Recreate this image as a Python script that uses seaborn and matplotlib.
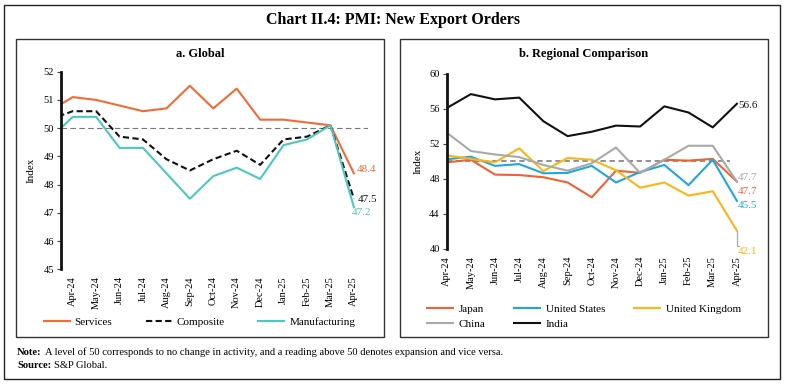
import numpy as np
import pandas as pd
import seaborn as sns
import matplotlib.pyplot as plt
from matplotlib.patches import Rectangle
from matplotlib.lines import Line2D

# months shown on the axis (Mar-24 only feeds the clipped stub at the left edge)
months = ['Apr-24', 'May-24', 'Jun-24', 'Jul-24', 'Aug-24', 'Sep-24', 'Oct-24',
          'Nov-24', 'Dec-24', 'Jan-25', 'Feb-25', 'Mar-25', 'Apr-25']

# panel a: global PMI new export orders (first value = Mar-24)
services = [50.6, 51.1, 51.0, 50.8, 50.6, 50.7, 51.5, 50.7, 51.4, 50.3, 50.3, 50.2, 50.1, 48.4]
composite = [50.3, 50.6, 50.6, 49.7, 49.6, 48.9, 48.5, 48.9, 49.2, 48.7, 49.6, 49.7, 50.1, 47.5]
manufacturing = [49.6, 50.4, 50.4, 49.3, 49.3, 48.4, 47.5, 48.3, 48.6, 48.2, 49.4, 49.6, 50.1, 47.2]

# panel b: regional comparison
japan = [49.9, 50.2, 48.5, 48.45, 48.2, 47.6, 45.9, 48.95, 48.7, 50.2, 50.1, 50.3, 47.7]
united_states = [50.25, 50.55, 49.5, 49.7, 48.65, 48.7, 49.5, 47.6, 48.8, 49.6, 47.3, 50.2, 45.5]
united_kingdom = [50.7, 50.3, 49.9, 51.5, 48.9, 50.4, 50.2, 49.0, 47.0, 47.6, 46.1, 46.6, 42.1]
china = [53.3, 51.2, 50.8, 50.5, 49.6, 48.95, 49.8, 51.6, 48.7, 50.2, 51.8, 51.8, 47.7]
india = [56.1, 57.7, 57.1, 57.3, 54.6, 52.9, 53.4, 54.1, 54.0, 56.3, 55.6, 53.9, 56.6]

glob_colors = {'Services': '#F26A36', 'Composite': '#111111', 'Manufacturing': '#4CC8BE'}
reg_colors = {'Japan': '#EF6234', 'United States': '#1FA6E0', 'United Kingdom': '#FDB515',
              'China': '#A9A9A9', 'India': '#111111'}

serif = 'Liberation Serif'
plt.rcParams['font.family'] = [serif, 'DejaVu Serif']

fig = plt.figure(figsize=(7.85, 3.84), dpi=100)

# frames
fig.add_artist(Rectangle((0.0051, 0.013), 0.9885, 0.974, transform=fig.transFigure,
                         fill=False, ec='#222222', lw=1.0))
for x0 in [0.0204, 0.5096]:
    fig.add_artist(Rectangle((x0, 0.1224), 0.4688, 0.776, transform=fig.transFigure,
                             fill=False, ec='#333333', lw=1.0))

fig.text(0.5, 0.947, 'Chart II.4: PMI: New Export Orders', ha='center', va='center',
         fontsize=11.5, fontweight='bold')
fig.text(200 / 785, 1 - 54 / 384, 'a. Global', ha='center', va='center',
         fontsize=9, fontweight='bold')
fig.text(584 / 785, 1 - 54 / 384, 'b. Regional Comparison', ha='center', va='center',
         fontsize=9, fontweight='bold')

# ---------- panel a ----------
gx = np.arange(-1, 13)
gdf = pd.DataFrame({'x': np.tile(gx, 3),
                    'value': services + composite + manufacturing,
                    'series': ['Services'] * 14 + ['Composite'] * 14 + ['Manufacturing'] * 14})

ax1 = fig.add_axes([0.0777, 0.2987, 0.391, 0.5146])
sns.lineplot(data=gdf, x='x', y='value', hue='series', style='series', palette=glob_colors,
             dashes={'Services': '', 'Composite': (3, 1.6), 'Manufacturing': ''},
             linewidth=1.5, legend=False, ax=ax1)
ax1.hlines(50, -0.5, 12.6, colors='#777777', linestyles=(0, (5, 3)), linewidth=0.8, zorder=0)
ax1.set_xlim(-0.5, 12.6)
ax1.set_ylim(45, 52)
ax1.set_yticks(range(45, 53))

ax1.text(12.12, 48.52, '48.4', color=glob_colors['Services'], fontsize=8, va='center')
ax1.text(12.15, 47.48, '47.5', color='#111111', fontsize=8, va='center')
ax1.text(11.9, 47.0, '47.2', color=glob_colors['Manufacturing'], fontsize=8, va='center')
ax1.set_ylabel('Index', fontsize=8, labelpad=6)

# ---------- panel b ----------
rx = np.arange(13)
names = ['Japan', 'United States', 'United Kingdom', 'China', 'India']
rdf = pd.DataFrame({'x': np.tile(rx, 5),
                    'value': japan + united_states + united_kingdom + china + india,
                    'series': np.repeat(names, 13)})

ax2 = fig.add_axes([0.569, 0.3516, 0.399, 0.4557])
ax2.hlines(50, 0, 11.7, colors='#888888', linestyles=(0, (3, 2)), linewidth=1.3, zorder=0)
sns.lineplot(data=rdf, x='x', y='value', hue='series', palette=reg_colors,
             linewidth=1.5, legend=False, ax=ax2)
ax2.set_xlim(0, 12.95)
ax2.set_ylim(40, 60)
ax2.set_yticks(range(40, 61, 4))

ax2.text(12.05, 56.35, '56.6', color='#111111', fontsize=8, va='center')
ax2.text(12.05, 48.2, '47.7', color=reg_colors['China'], fontsize=8, va='center')
ax2.text(12.05, 46.6, '47.7', color=reg_colors['Japan'], fontsize=8, va='center')
ax2.text(12.05, 45.0, '45.5', color=reg_colors['United States'], fontsize=8, va='center')
ax2.text(12.05, 39.75, '42.1', color=reg_colors['United Kingdom'], fontsize=8, va='center',
         clip_on=False)
ax2.plot([12, 12, 12.1], [42.1, 40.3, 40.3], color='#A9A9A9', lw=0.9, clip_on=False)
ax2.set_ylabel('Index', fontsize=8, labelpad=5)

for ax in [ax1, ax2]:
    ax.set_xticks(range(13))
    ax.set_xticklabels(months, rotation=90, fontsize=7.5)
    ax.set_xlabel('')
    ax.tick_params(axis='x', length=0, pad=5)
    ax.tick_params(axis='y', labelsize=7.5, length=3, width=0.8, color='#444444', pad=2)
    for s in ['top', 'right', 'bottom']:
        ax.spines[s].set_visible(False)
    ax.spines['left'].set_linewidth(2)
    ax.spines['left'].set_color('#111111')
    ax.set_facecolor('none')

# legends
g_handles = [Line2D([], [], color=glob_colors['Services'], lw=1.5),
             Line2D([], [], color='#111111', lw=1.5, ls=(0, (3, 1.6))),
             Line2D([], [], color=glob_colors['Manufacturing'], lw=1.5)]
fig.legend(g_handles, ['Services', 'Composite', 'Manufacturing'], loc='center left',
           bbox_to_anchor=(0.0427, 0.161), ncol=3, frameon=False, fontsize=8,
           handlelength=2.35, columnspacing=3.0, handletextpad=0.45)

# column-major fill: Japan/China, United States/India, United Kingdom
order = ['Japan', 'China', 'United States', 'India', 'United Kingdom']
r_handles = [Line2D([], [], color=reg_colors[n], lw=1.5) for n in order]
fig.legend(r_handles, order, loc='center left', bbox_to_anchor=(0.531, 0.176), ncol=3,
           frameon=False, fontsize=8, handlelength=2.35, columnspacing=2.6,
           handletextpad=0.5, labelspacing=0.45)

# notes
fig.text(0.0217, 0.083, 'Note:', fontsize=7.6, fontweight='bold', va='center')
fig.text(0.057, 0.083, 'A level of 50 corresponds to no change in activity, and a reading '
         'above 50 denotes expansion and vice versa.', fontsize=7.6, va='center')
fig.text(0.0217, 0.047, 'Source:', fontsize=7.6, fontweight='bold', va='center')
fig.text(0.0685, 0.047, 'S&P Global.', fontsize=7.6, va='center')

fig.savefig('out.png', dpi=100)
